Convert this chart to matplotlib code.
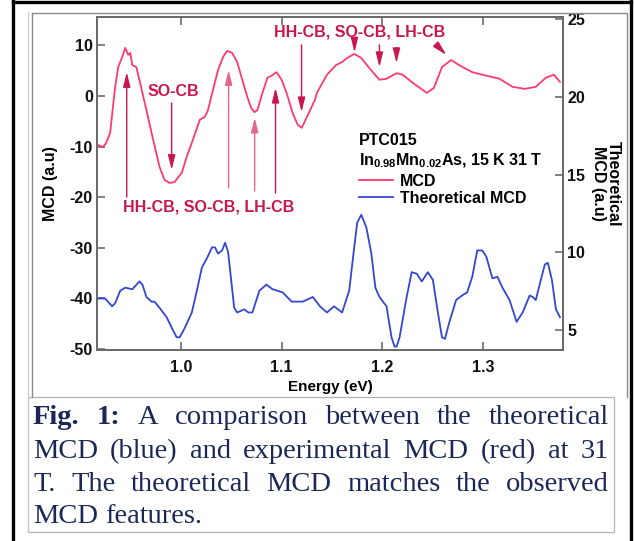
import matplotlib
matplotlib.use('Agg')
import matplotlib.pyplot as plt
from matplotlib.lines import Line2D
from matplotlib.patches import Rectangle

plt.rcParams['font.family'] = ['Liberation Sans', 'DejaVu Sans']
plt.rcParams['font.weight'] = 'bold'
plt.rcParams['axes.unicode_minus'] = False
plt.rcParams['mathtext.fontset'] = 'custom'
plt.rcParams['mathtext.rm'] = 'Liberation Sans:bold'
plt.rcParams['mathtext.bf'] = 'Liberation Sans:bold'

# experimental MCD (left axis)
exp_energy = [0.918, 0.923, 0.926, 0.930, 0.935, 0.938, 0.942, 0.945, 0.948, 0.950,
              0.952, 0.956, 0.959, 0.966, 0.972, 0.979, 0.984, 0.989, 0.994, 0.997,
              1.001, 1.006, 1.012, 1.019, 1.024, 1.027, 1.032, 1.037, 1.042, 1.046,
              1.051, 1.056, 1.061, 1.066, 1.070, 1.073, 1.076, 1.081, 1.086, 1.090,
              1.095, 1.100, 1.105, 1.111, 1.116, 1.120, 1.125, 1.133, 1.135, 1.145,
              1.154, 1.160, 1.165, 1.172, 1.179, 1.187, 1.197, 1.204, 1.214, 1.220,
              1.230, 1.244, 1.251, 1.259, 1.268, 1.276, 1.289, 1.303, 1.316, 1.329,
              1.341, 1.352, 1.362, 1.370, 1.376]
exp_mcd = [-9.7, -10.1, -9.3, -7.3, 1.8, 5.7, 7.7, 9.5, 8.1, 8.5,
           6.1, 5.7, 3.2, -2.8, -8.1, -14.0, -16.6, -17.2, -17.0, -16.2,
           -15.2, -12.0, -8.7, -4.7, -4.1, -2.8, 1.2, 5.1, 7.7, 8.9,
           8.5, 6.7, 3.2, -0.2, -2.4, -3.2, -2.8, 0.6, 3.6, 4.0,
           4.7, 3.2, 0.6, -3.4, -5.7, -6.3, -4.2, -0.8, 0.6, 4.2,
           6.1, 6.7, 7.5, 8.3, 7.5, 5.5, 3.2, 3.4, 4.5, 4.2,
           2.6, 0.6, 1.6, 5.7, 7.1, 6.1, 4.7, 4.0, 3.4, 1.8,
           1.4, 1.8, 3.6, 4.2, 2.8]

# theoretical MCD (right axis)
th_energy = [0.918, 0.925, 0.932, 0.935, 0.940, 0.945, 0.952, 0.959, 0.962, 0.966,
             0.971, 0.974, 0.979, 0.986, 0.992, 0.996, 0.999, 1.004, 1.011, 1.016,
             1.021, 1.026, 1.031, 1.034, 1.037, 1.041, 1.044, 1.047, 1.050, 1.053,
             1.056, 1.063, 1.067, 1.071, 1.075, 1.078, 1.085, 1.091, 1.101, 1.110,
             1.121, 1.131, 1.138, 1.145, 1.152, 1.160, 1.167, 1.172, 1.175, 1.179,
             1.184, 1.189, 1.193, 1.197, 1.204, 1.209, 1.212, 1.214, 1.217, 1.224,
             1.229, 1.234, 1.239, 1.245, 1.250, 1.254, 1.259, 1.262, 1.266, 1.273,
             1.279, 1.284, 1.289, 1.294, 1.299, 1.303, 1.309, 1.314, 1.319, 1.326,
             1.333, 1.339, 1.346, 1.349, 1.352, 1.357, 1.361, 1.364, 1.368, 1.372,
             1.376]
th_mcd = [7.0, 7.0, 6.5, 6.7, 7.5, 7.7, 7.6, 8.1, 7.9, 7.1,
          6.8, 6.8, 6.4, 5.8, 5.0, 4.5, 4.5, 5.1, 6.1, 7.5,
          9.0, 9.6, 10.3, 10.3, 9.9, 10.1, 10.6, 10.0, 8.2, 6.4,
          6.1, 6.3, 6.1, 6.1, 6.9, 7.5, 7.9, 7.6, 7.4, 6.8,
          6.8, 7.1, 6.5, 6.1, 6.5, 6.1, 7.5, 10.3, 11.9, 12.4,
          11.6, 9.9, 7.7, 7.1, 6.5, 4.5, 3.9, 3.9, 4.5, 7.1,
          8.7, 8.6, 8.1, 8.7, 8.2, 6.5, 4.5, 4.4, 5.4, 6.9,
          7.2, 7.4, 8.4, 10.1, 10.1, 9.7, 8.3, 8.4, 7.7, 6.9,
          5.5, 6.1, 7.2, 7.1, 6.9, 8.2, 9.2, 9.3, 8.2, 6.3,
          5.8]

x_ticks = [1.0, 1.1, 1.2, 1.3]
left_ticks = [-50, -40, -30, -20, -10, 0, 10]
right_ticks = [5, 10, 15, 20, 25]

# transition labels: (text, x, y, ha) and arrows (x_tail, y_tail, x_head, y_head) in left-axis units
label_texts = [('SO-CB', 0.993, 0.8, 'center'),
               ('HH-CB, SO-CB, LH-CB', 0.9425, -21.9, 'left'),
               ('HH-CB, SO-CB, LH-CB', 1.092, 12.6, 'left')]
arrows = [(0.991, -1.4, 0.991, -14.6),
          (0.9465, -20.0, 0.9465, 4.7),
          (1.0475, -18.2, 1.0475, 5.1),
          (1.0733, -18.8, 1.0733, -4.3),
          (1.094, -19.2, 1.094, 1.6),
          (1.1198, 10.1, 1.1198, -3.2),
          (1.1723, 10.9, 1.1723, 8.6),
          (1.197, 10.1, 1.197, 5.7),
          (1.2139, 9.6, 1.2139, 6.5),
          (1.2545, 9.9, 1.2634, 8.1)]

legend_title = 'PTC015\nIn$_{\\mathbf{0.98}}$Mn$_{\\mathbf{0.02}}$As, 15 K 31 T'
legend_labels = ['MCD', 'Theoretical MCD']

caption_lines = [['Fig.', '1:', 'A', 'comparison', 'between', 'the', 'theoretical'],
                 ['MCD', '(blue)', 'and', 'experimental', 'MCD', '(red)', 'at', '31'],
                 ['T.', 'The', 'theoretical', 'MCD', 'matches', 'the', 'observed'],
                 ['MCD', 'features.']]

W, H = 634, 541
red = '#ff3a6e'
blue = '#3347d1'
ann = '#c8174e'
spine = '#6b6b6b'
navy = '#1b2757'


def fx(px):
    return px / W


def fy(py):
    return 1 - py / H


fig = plt.figure(figsize=(W / 100, H / 100), dpi=100)

# page frames
fig.add_artist(Line2D([fx(13), fx(13)], [0, 1], color='black', lw=2.4, transform=fig.transFigure))
fig.add_artist(Line2D([fx(13), fx(631)], [fy(1.5), fy(1.5)], color='black', lw=2.4, transform=fig.transFigure))
fig.add_artist(Line2D([fx(631), fx(631)], [0, 1], color='black', lw=2.4, transform=fig.transFigure))
fig.add_artist(Line2D([fx(28), fx(28)], [fy(12), fy(532)], color='#c8c8c8', lw=0.8, transform=fig.transFigure))
fig.add_artist(Line2D([fx(32), fx(32), fx(627), fx(627)], [fy(397), fy(12.5), fy(12.5), fy(397)],
                      color='#8a8a8a', lw=1.0, transform=fig.transFigure))
fig.add_artist(Rectangle((fx(28), fy(532)), fx(614) - fx(28), fy(397) - fy(532), fill=False,
                         edgecolor='#b5b5b5', lw=0.9, transform=fig.transFigure))

ax = fig.add_axes([fx(97), fy(350), fx(563) - fx(97), fy(17) - fy(350)])
ax2 = ax.twinx()

l1, = ax.plot(exp_energy, exp_mcd, color=red, lw=1.3)
l2, = ax2.plot(th_energy, th_mcd, color=blue, lw=1.3)

ax.set_xlim(0.917, 1.379)
ax.set_ylim(-50.2, 15.6)
ax2.set_ylim(3.68, 25.16)
ax.set_xticks(x_ticks)
ax.set_yticks(left_ticks)
ax2.set_yticks(right_ticks)
ax.set_xticklabels([f'{v:.1f}' for v in x_ticks])

for a in (ax, ax2):
    for s in a.spines.values():
        s.set_color(spine)
        s.set_linewidth(1.3)
ax.tick_params(axis='both', direction='in', length=6, width=1.2, color=spine,
               labelsize=11.5, pad=3, top=True, labelcolor='#111111')
ax.tick_params(axis='x', pad=7)
ax2.tick_params(axis='y', direction='in', length=6, width=1.2, color=spine,
                labelsize=11.5, pad=3, labelcolor='#111111')

ax.set_xlabel('Energy (eV)', fontsize=11, fontweight='bold', labelpad=4)
ax.set_ylabel('MCD (a.u)', fontsize=11.5, fontweight='bold', labelpad=8)
ax2.set_ylabel('Theoretical\nMCD (a.u)', fontsize=11.5, fontweight='bold', rotation=270,
               labelpad=4, va='bottom', multialignment='center', linespacing=1.05)

for txt, x, y, ha in label_texts:
    ax.text(x, y, txt, color=ann, fontsize=11.5, fontweight='bold', ha=ha, va='center')
for i, (xt, yt, xh, yh) in enumerate(arrows):
    c = '#e2668f' if i in (2, 3) else ann
    ax.annotate('', xy=(xh, yh), xytext=(xt, yt),
                arrowprops=dict(arrowstyle='-|>,head_width=0.2,head_length=0.8', color=c,
                                lw=1.0, shrinkA=0, shrinkB=0, mutation_scale=11))

ax2.text((359 - 97) / 466, (350 - 133) / 333, legend_title, transform=ax2.transAxes,
         fontsize=11.5, fontweight='bold', ha='left', va='top', linespacing=1.25)
ax2.legend([l1, l2], legend_labels,
           loc='upper left', bbox_to_anchor=((359 - 97) / 466, (350 - 174) / 333),
           frameon=False, borderpad=0, borderaxespad=0, handlelength=2.1,
           handletextpad=0.45, labelspacing=0.12,
           prop={'weight': 'bold', 'size': 11.5})

# caption, justified word by word
renderer = fig.canvas.get_renderer()
left_px, right_px = 33, 609
baselines = [424, 458, 491, 523]
for li, words in enumerate(caption_lines):
    objs = []
    for wi, w in enumerate(words):
        bold = li == 0 and wi < 2
        t = fig.text(0, fy(baselines[li]), w, fontsize=20.5, color=navy,
                     family='Liberation Serif', fontweight='bold' if bold else 'normal',
                     va='baseline', ha='left')
        objs.append(t)
    widths = [t.get_window_extent(renderer).width for t in objs]
    if li < len(caption_lines) - 1:
        gap = (right_px - left_px - sum(widths)) / (len(objs) - 1)
    else:
        gap = 7
    xpos = left_px
    for t, wd in zip(objs, widths):
        t.set_x(fx(xpos))
        xpos += wd + gap

fig.savefig('out.png', dpi=100)
